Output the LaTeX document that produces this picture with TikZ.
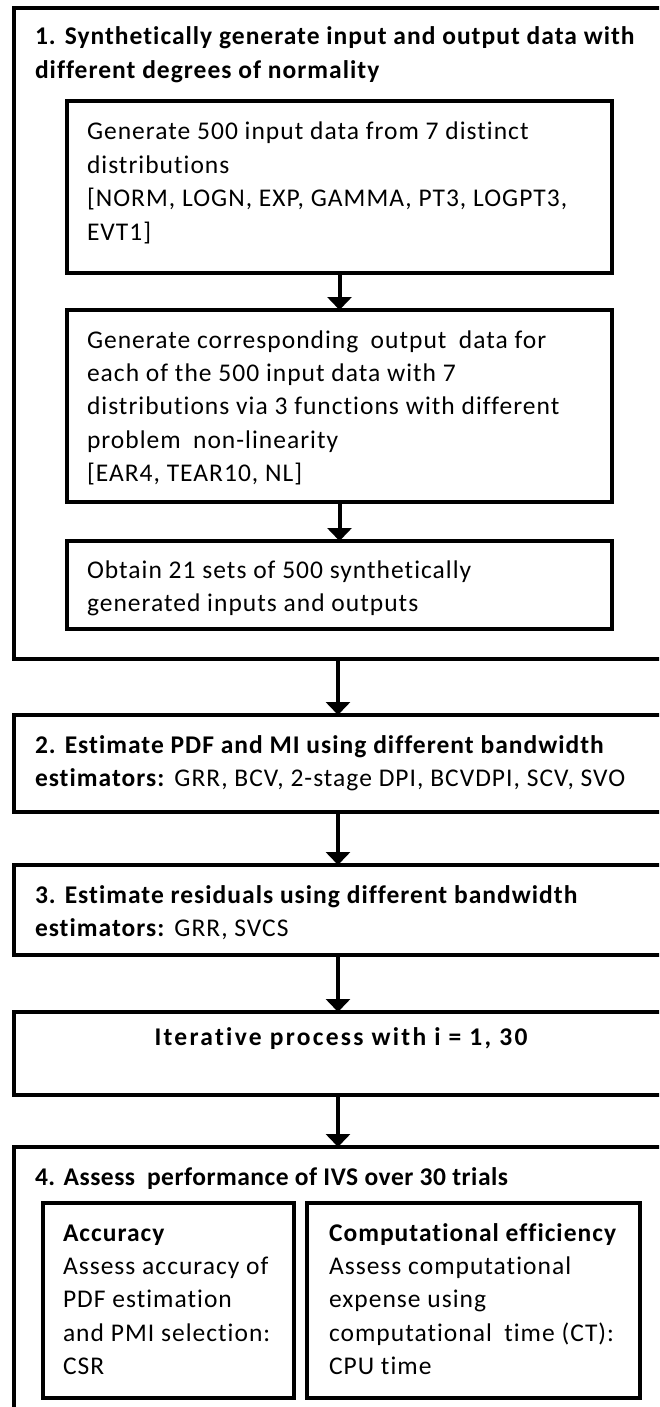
\documentclass[tikz,border=0pt]{standalone}
\usepackage{fontspec}
\setmainfont{Carlito}[Ligatures=NoCommon, LetterSpace=4]
\usetikzlibrary{arrows.meta}
\newcommand{\fs}{\fontsize{25.5}{33.4}\selectfont}
\newcommand{\mylines}[1]{\begin{tabular}[t]{@{}l@{}}#1\end{tabular}}
\newcommand{\xsp}{\hspace{0.22em}}
\begin{document}
\begin{tikzpicture}[x=1pt,y=-1pt,
  box/.style={draw, line width=4.2pt, rectangle, inner sep=0pt, outer sep=0pt},
  txt/.style={anchor=base west, inner sep=0pt, outer sep=0pt, font=\fs},
  arr/.style={line width=4pt, -{Triangle[width=24pt,length=13pt]}}]
\useasboundingbox (0,0) rectangle (659,1407);
\clip (0,0) rectangle (659,1407);
% outer boxes
\node[box, minimum width=648pt, minimum height=651pt] (b1) at (338,333.5) {};
\node[box, minimum width=545pt, minimum height=172pt] (ba) at (339.5,187) {};
\node[box, minimum width=545pt, minimum height=192pt] (bb) at (339.5,406) {};
\node[box, minimum width=545pt, minimum height=88pt] (bc) at (339.5,585) {};
\node[box, minimum width=648pt, minimum height=97pt] (b2) at (338,763.5) {};
\node[box, minimum width=648pt, minimum height=90pt] (b3) at (338,910) {};
\node[box, minimum width=648pt, minimum height=83pt] (bi) at (338,1053.5) {};
\node[box, minimum width=648pt, minimum height=265pt] (b4) at (338,1279.5) {};
\node[box, minimum width=251pt, minimum height=195pt] (bacc) at (168.5,1300.5) {};
\node[box, minimum width=333pt, minimum height=195pt] (bcomp) at (473.5,1300.5) {};
% texts
\node[txt, font=\fs\bfseries] (t1) at (35,45) {\mylines{1. Synthetically generate input and output data with\\different degrees of normality}};
\node[txt] (ta) at (87,140) {\mylines{Generate 500 input data from 7 distinct\\distributions\\{[NORM, LOGN, EXP, GAMMA, PT3, LOGPT3,}\\EVT1]}};
\node[txt] (tb) at (87,348) {\mylines{Generate corresponding\xsp{} output\xsp{} data for\\each of the 500 input data with 7\\distributions via 3 functions with different\\problem\xsp{} non-linearity\\{[EAR4, TEAR10, NL]}}};
\node[txt] (tc) at (87,578) {\mylines{Obtain 21 sets of 500 synthetically\\generated inputs and outputs}};
\node[txt] (t2) at (35,753) {\mylines{\textbf{2. Estimate PDF and MI using different bandwidth}\\\textbf{estimators:} GRR, BCV, 2-stage DPI, BCVDPI, SCV, SVO}};
\node[txt] (t3) at (35,903) {\mylines{\textbf{3. Estimate residuals using different bandwidth}\\\textbf{estimators:} GRR, SVCS}};
\node[anchor=base, inner sep=0pt, font=\fs\bfseries\addfontfeature{LetterSpace=9}] (ti) at (341,1045) {Iterative process with i = 1, 30};
\node[txt, font=\fs\bfseries\addfontfeature{LetterSpace=2}] (t4) at (35,1185) {4. Assess\xsp{} performance of IVS over 30 trials};
\node[txt] (tacc) at (63,1241) {\mylines{\textbf{Accuracy}\\Assess accuracy of\\PDF estimation\\and PMI selection:\\CSR}};
\node[txt] (tcomp) at (329,1241) {\mylines{\textbf{Computational efficiency}\\Assess computational\\expense using\\computational\xsp{} time (CT):\\CPU time}};
% arrows
\draw[arr] (ba.south) -- (bb.north);
\draw[arr] (bb.south) -- (bc.north);
\draw[arr] (b1.south) -- (b2.north);
\draw[arr] (b2.south) -- (b3.north);
\draw[arr] (b3.south) -- (bi.north);
\draw[arr] (bi.south) -- (b4.north);
\end{tikzpicture}
\end{document}
